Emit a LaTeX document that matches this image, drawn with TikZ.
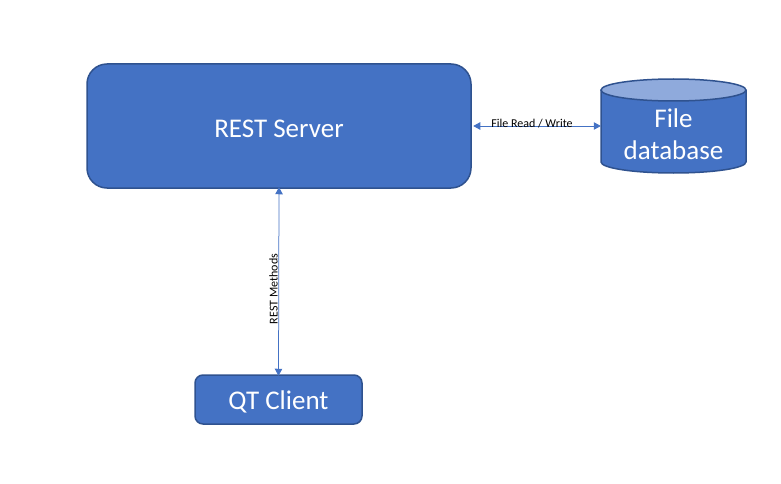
\documentclass[tikz,border=0pt]{standalone}
\usepackage{fontspec}
\setmainfont{Carlito}
\usetikzlibrary{arrows.meta}
\definecolor{boxfill}{HTML}{4472C4}
\definecolor{boxline}{HTML}{2F528F}
\definecolor{toplight}{HTML}{8FAADC}
\definecolor{arrowc}{HTML}{4472C4}
\tikzset{
  box/.style={draw=boxline, line width=1.5pt, fill=boxfill, inner sep=0pt},
  boxtext/.style={text=white, inner sep=0pt, font=\fontsize{27}{32}\selectfont, yshift=-2.5pt},
  conn/.style={draw=arrowc, line width=0.75pt, {Triangle[length=7pt,width=7.5pt]}-{Triangle[length=7pt,width=7.5pt]}},
  lbl/.style={font=\fontsize{12}{13}\selectfont, text=black, inner sep=0pt}
}
\begin{document}
\begin{tikzpicture}[x=1pt,y=-1pt]
\useasboundingbox (0,0) rectangle (781,484);
\node[box, rounded corners=20pt, minimum width=384pt, minimum height=124pt, label={[boxtext]center:REST Server}] (server) at (279,126) {};
\node[box, rounded corners=8pt, minimum width=167pt, minimum height=49pt, label={[boxtext]center:QT Client}] (client) at (278.5,399.5) {};
% cylinder
\fill[boxfill] (601,90) -- (601,162) arc[start angle=180, end angle=0, x radius=72.5, y radius=11] -- (746,90) -- cycle;
\draw[boxline, line width=1.5pt] (601,90) -- (601,162) arc[start angle=180, end angle=0, x radius=72.5, y radius=11] -- (746,90);
\draw[boxline, line width=1.5pt, fill=toplight] (673.5,90) ellipse[x radius=72.5, y radius=11];
\node[inner sep=0pt, minimum width=145pt, minimum height=94pt, align=center, text=white, font=\fontsize{27}{32}\selectfont] (db) at (673.5,134) {File\\database};
\draw[conn] (server.east) ++(1.5,0) coordinate (se) -- (se -| db.west) coordinate (dw);
\node[lbl, anchor=base] at (532,127.5) {File Read / Write};
\draw[conn] ([yshift=1.5pt]server.south) -- ([yshift=-1.5pt]client.north);
\node[lbl, rotate=90, anchor=base] at (277.5,289) {REST Methods};
\end{tikzpicture}
\end{document}
